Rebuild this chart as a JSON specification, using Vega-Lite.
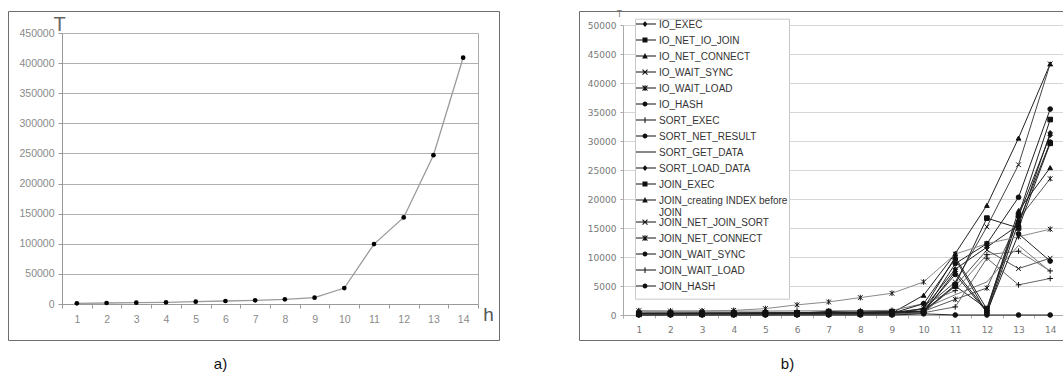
{
  "$schema": "https://vega.github.io/schema/vega-lite/v6.json",
  "padding": {"left": 7, "top": 9, "right": 0, "bottom": 0},
  "spacing": 78,
  "config": {
    "view": {"stroke": "#6e6e6e", "strokeWidth": 1},
    "font": "Liberation Sans"
  },
  "hconcat": [
    {
      "width": 491,
      "height": 329,
      "title": {"text": "a)", "orient": "bottom", "anchor": "middle", "dx": -33, "offset": 17, "fontSize": 15, "font": "Liberation Sans", "fontWeight": "normal", "color": "#111"},
      "data": {"values": [
        {"h": 1, "T": 1100}, {"h": 2, "T": 1700}, {"h": 3, "T": 2200}, {"h": 4, "T": 2800},
        {"h": 5, "T": 3900}, {"h": 6, "T": 5000}, {"h": 7, "T": 6100}, {"h": 8, "T": 7700},
        {"h": 9, "T": 10500}, {"h": 10, "T": 26500}, {"h": 11, "T": 99500}, {"h": 12, "T": 143700},
        {"h": 13, "T": 247100}, {"h": 14, "T": 409000}
      ]},
      "encoding": {
        "x": {
          "field": "h", "type": "ordinal",
          "scale": {"type": "band", "range": [54, 470], "paddingInner": 0, "paddingOuter": 0},
          "axis": {
            "orient": "bottom", "offset": -36, "labelAngle": 0, "labelFont": "Liberation Sans", "labelFontSize": 10.5,
            "labelColor": "#8a8a8a", "labelPadding": 6, "tickBand": "extent", "tickSize": 4, "tickColor": "#999",
            "domainColor": "#999", "grid": false, "title": "h", "titleFont": "Liberation Sans", "titleFontSize": 19,
            "titleFontWeight": "normal", "titleColor": "#555", "titleX": 480, "titleY": 16, "titleAlign": "center",
            "titleBaseline": "alphabetic"
          }
        },
        "y": {
          "field": "T", "type": "quantitative",
          "scale": {"domain": [0, 450000], "range": [293, 22], "nice": false},
          "axis": {
            "orient": "left", "offset": -54, "values": [0, 50000, 100000, 150000, 200000, 250000, 300000, 350000, 400000, 450000],
            "format": "d", "labelFont": "Liberation Sans", "labelFontSize": 10.5, "labelColor": "#8a8a8a", "labelPadding": 4,
            "tickSize": 4, "tickColor": "#999", "domainColor": "#999", "grid": true, "gridColor": "#b0b0b0", "gridWidth": 1.2,
            "title": "T", "titleAngle": 0, "titleX": -3, "titleY": 19, "titleAlign": "center", "titleBaseline": "alphabetic",
            "titleFont": "Liberation Sans", "titleFontSize": 20, "titleFontWeight": "normal", "titleColor": "#666"
          }
        }
      },
      "layer": [
        {"mark": {"type": "line", "color": "#9a9a9a", "strokeWidth": 1.3}},
        {
          "mark": {"type": "point", "shape": "circle", "filled": true, "color": "#000", "size": 22, "opacity": 1},
          "encoding": {
            "y": {"field": "T", "type": "quantitative", "axis": {"orient": "right", "offset": -21, "labels": false, "ticks": false, "grid": false, "domainColor": "#aaa", "title": null}}
          }
        }
      ],
      "resolve": {"axis": {"y": "independent"}}
    },
    {
      "width": 487,
      "height": 329,
      "title": {"text": "b)", "orient": "bottom", "anchor": "middle", "dx": -35, "offset": 17, "fontSize": 15, "font": "Liberation Sans", "fontWeight": "normal", "color": "#111"},
      "data": {"values": [
        {"s": "IO_EXEC", "h": 1, "T": 150}, {"s": "IO_EXEC", "h": 2, "T": 160}, {"s": "IO_EXEC", "h": 3, "T": 170}, {"s": "IO_EXEC", "h": 4, "T": 180}, {"s": "IO_EXEC", "h": 5, "T": 200}, {"s": "IO_EXEC", "h": 6, "T": 220}, {"s": "IO_EXEC", "h": 7, "T": 260}, {"s": "IO_EXEC", "h": 8, "T": 300}, {"s": "IO_EXEC", "h": 9, "T": 400}, {"s": "IO_EXEC", "h": 10, "T": 1100}, {"s": "IO_EXEC", "h": 11, "T": 7900}, {"s": "IO_EXEC", "h": 12, "T": 11700}, {"s": "IO_EXEC", "h": 13, "T": 15500}, {"s": "IO_EXEC", "h": 14, "T": 31400},
        {"s": "IO_NET_IO_JOIN", "h": 1, "T": 300}, {"s": "IO_NET_IO_JOIN", "h": 2, "T": 300}, {"s": "IO_NET_IO_JOIN", "h": 3, "T": 320}, {"s": "IO_NET_IO_JOIN", "h": 4, "T": 330}, {"s": "IO_NET_IO_JOIN", "h": 5, "T": 350}, {"s": "IO_NET_IO_JOIN", "h": 6, "T": 380}, {"s": "IO_NET_IO_JOIN", "h": 7, "T": 450}, {"s": "IO_NET_IO_JOIN", "h": 8, "T": 500}, {"s": "IO_NET_IO_JOIN", "h": 9, "T": 600}, {"s": "IO_NET_IO_JOIN", "h": 10, "T": 640}, {"s": "IO_NET_IO_JOIN", "h": 11, "T": 5000}, {"s": "IO_NET_IO_JOIN", "h": 12, "T": 1100}, {"s": "IO_NET_IO_JOIN", "h": 13, "T": 17200}, {"s": "IO_NET_IO_JOIN", "h": 14, "T": 33700},
        {"s": "IO_NET_CONNECT", "h": 1, "T": 100}, {"s": "IO_NET_CONNECT", "h": 2, "T": 110}, {"s": "IO_NET_CONNECT", "h": 3, "T": 120}, {"s": "IO_NET_CONNECT", "h": 4, "T": 130}, {"s": "IO_NET_CONNECT", "h": 5, "T": 150}, {"s": "IO_NET_CONNECT", "h": 6, "T": 170}, {"s": "IO_NET_CONNECT", "h": 7, "T": 200}, {"s": "IO_NET_CONNECT", "h": 8, "T": 250}, {"s": "IO_NET_CONNECT", "h": 9, "T": 320}, {"s": "IO_NET_CONNECT", "h": 10, "T": 3400}, {"s": "IO_NET_CONNECT", "h": 11, "T": 10600}, {"s": "IO_NET_CONNECT", "h": 12, "T": 18900}, {"s": "IO_NET_CONNECT", "h": 13, "T": 30500}, {"s": "IO_NET_CONNECT", "h": 14, "T": 43300},
        {"s": "IO_WAIT_SYNC", "h": 1, "T": 80}, {"s": "IO_WAIT_SYNC", "h": 2, "T": 80}, {"s": "IO_WAIT_SYNC", "h": 3, "T": 90}, {"s": "IO_WAIT_SYNC", "h": 4, "T": 100}, {"s": "IO_WAIT_SYNC", "h": 5, "T": 110}, {"s": "IO_WAIT_SYNC", "h": 6, "T": 120}, {"s": "IO_WAIT_SYNC", "h": 7, "T": 150}, {"s": "IO_WAIT_SYNC", "h": 8, "T": 180}, {"s": "IO_WAIT_SYNC", "h": 9, "T": 230}, {"s": "IO_WAIT_SYNC", "h": 10, "T": 1090}, {"s": "IO_WAIT_SYNC", "h": 11, "T": 5700}, {"s": "IO_WAIT_SYNC", "h": 12, "T": 15200}, {"s": "IO_WAIT_SYNC", "h": 13, "T": 25900}, {"s": "IO_WAIT_SYNC", "h": 14, "T": 43300},
        {"s": "IO_WAIT_LOAD", "h": 1, "T": 60}, {"s": "IO_WAIT_LOAD", "h": 2, "T": 60}, {"s": "IO_WAIT_LOAD", "h": 3, "T": 70}, {"s": "IO_WAIT_LOAD", "h": 4, "T": 70}, {"s": "IO_WAIT_LOAD", "h": 5, "T": 80}, {"s": "IO_WAIT_LOAD", "h": 6, "T": 90}, {"s": "IO_WAIT_LOAD", "h": 7, "T": 110}, {"s": "IO_WAIT_LOAD", "h": 8, "T": 130}, {"s": "IO_WAIT_LOAD", "h": 9, "T": 160}, {"s": "IO_WAIT_LOAD", "h": 10, "T": 640}, {"s": "IO_WAIT_LOAD", "h": 11, "T": 2700}, {"s": "IO_WAIT_LOAD", "h": 12, "T": 4650}, {"s": "IO_WAIT_LOAD", "h": 13, "T": 16500}, {"s": "IO_WAIT_LOAD", "h": 14, "T": 23500},
        {"s": "IO_HASH", "h": 1, "T": 200}, {"s": "IO_HASH", "h": 2, "T": 210}, {"s": "IO_HASH", "h": 3, "T": 220}, {"s": "IO_HASH", "h": 4, "T": 230}, {"s": "IO_HASH", "h": 5, "T": 250}, {"s": "IO_HASH", "h": 6, "T": 270}, {"s": "IO_HASH", "h": 7, "T": 300}, {"s": "IO_HASH", "h": 8, "T": 350}, {"s": "IO_HASH", "h": 9, "T": 420}, {"s": "IO_HASH", "h": 10, "T": 400}, {"s": "IO_HASH", "h": 11, "T": 8850}, {"s": "IO_HASH", "h": 12, "T": 12300}, {"s": "IO_HASH", "h": 13, "T": 20300}, {"s": "IO_HASH", "h": 14, "T": 35500},
        {"s": "SORT_EXEC", "h": 1, "T": 650}, {"s": "SORT_EXEC", "h": 2, "T": 650}, {"s": "SORT_EXEC", "h": 3, "T": 660}, {"s": "SORT_EXEC", "h": 4, "T": 670}, {"s": "SORT_EXEC", "h": 5, "T": 680}, {"s": "SORT_EXEC", "h": 6, "T": 700}, {"s": "SORT_EXEC", "h": 7, "T": 720}, {"s": "SORT_EXEC", "h": 8, "T": 750}, {"s": "SORT_EXEC", "h": 9, "T": 800}, {"s": "SORT_EXEC", "h": 10, "T": 1950}, {"s": "SORT_EXEC", "h": 11, "T": 4200}, {"s": "SORT_EXEC", "h": 12, "T": 10400}, {"s": "SORT_EXEC", "h": 13, "T": 11000}, {"s": "SORT_EXEC", "h": 14, "T": 7600},
        {"s": "SORT_NET_RESULT", "h": 1, "T": 120}, {"s": "SORT_NET_RESULT", "h": 2, "T": 130}, {"s": "SORT_NET_RESULT", "h": 3, "T": 140}, {"s": "SORT_NET_RESULT", "h": 4, "T": 150}, {"s": "SORT_NET_RESULT", "h": 5, "T": 160}, {"s": "SORT_NET_RESULT", "h": 6, "T": 180}, {"s": "SORT_NET_RESULT", "h": 7, "T": 210}, {"s": "SORT_NET_RESULT", "h": 8, "T": 250}, {"s": "SORT_NET_RESULT", "h": 9, "T": 300}, {"s": "SORT_NET_RESULT", "h": 10, "T": 1950}, {"s": "SORT_NET_RESULT", "h": 11, "T": 9700}, {"s": "SORT_NET_RESULT", "h": 12, "T": 300}, {"s": "SORT_NET_RESULT", "h": 13, "T": 16000}, {"s": "SORT_NET_RESULT", "h": 14, "T": 29800},
        {"s": "SORT_GET_DATA", "h": 1, "T": 50}, {"s": "SORT_GET_DATA", "h": 2, "T": 50}, {"s": "SORT_GET_DATA", "h": 3, "T": 60}, {"s": "SORT_GET_DATA", "h": 4, "T": 60}, {"s": "SORT_GET_DATA", "h": 5, "T": 70}, {"s": "SORT_GET_DATA", "h": 6, "T": 80}, {"s": "SORT_GET_DATA", "h": 7, "T": 90}, {"s": "SORT_GET_DATA", "h": 8, "T": 110}, {"s": "SORT_GET_DATA", "h": 9, "T": 130}, {"s": "SORT_GET_DATA", "h": 10, "T": 1100}, {"s": "SORT_GET_DATA", "h": 11, "T": 3500}, {"s": "SORT_GET_DATA", "h": 12, "T": 5700}, {"s": "SORT_GET_DATA", "h": 13, "T": 12000}, {"s": "SORT_GET_DATA", "h": 14, "T": 7500},
        {"s": "SORT_LOAD_DATA", "h": 1, "T": 180}, {"s": "SORT_LOAD_DATA", "h": 2, "T": 190}, {"s": "SORT_LOAD_DATA", "h": 3, "T": 200}, {"s": "SORT_LOAD_DATA", "h": 4, "T": 200}, {"s": "SORT_LOAD_DATA", "h": 5, "T": 220}, {"s": "SORT_LOAD_DATA", "h": 6, "T": 240}, {"s": "SORT_LOAD_DATA", "h": 7, "T": 500}, {"s": "SORT_LOAD_DATA", "h": 8, "T": 280}, {"s": "SORT_LOAD_DATA", "h": 9, "T": 350}, {"s": "SORT_LOAD_DATA", "h": 10, "T": 400}, {"s": "SORT_LOAD_DATA", "h": 11, "T": 7500}, {"s": "SORT_LOAD_DATA", "h": 12, "T": 700}, {"s": "SORT_LOAD_DATA", "h": 13, "T": 17000}, {"s": "SORT_LOAD_DATA", "h": 14, "T": 31000},
        {"s": "JOIN_EXEC", "h": 1, "T": 250}, {"s": "JOIN_EXEC", "h": 2, "T": 260}, {"s": "JOIN_EXEC", "h": 3, "T": 270}, {"s": "JOIN_EXEC", "h": 4, "T": 280}, {"s": "JOIN_EXEC", "h": 5, "T": 300}, {"s": "JOIN_EXEC", "h": 6, "T": 320}, {"s": "JOIN_EXEC", "h": 7, "T": 600}, {"s": "JOIN_EXEC", "h": 8, "T": 380}, {"s": "JOIN_EXEC", "h": 9, "T": 450}, {"s": "JOIN_EXEC", "h": 10, "T": 640}, {"s": "JOIN_EXEC", "h": 11, "T": 5200}, {"s": "JOIN_EXEC", "h": 12, "T": 16700}, {"s": "JOIN_EXEC", "h": 13, "T": 15000}, {"s": "JOIN_EXEC", "h": 14, "T": 29600},
        {"s": "JOIN_creating INDEX before JOIN", "h": 1, "T": 90}, {"s": "JOIN_creating INDEX before JOIN", "h": 2, "T": 100}, {"s": "JOIN_creating INDEX before JOIN", "h": 3, "T": 100}, {"s": "JOIN_creating INDEX before JOIN", "h": 4, "T": 110}, {"s": "JOIN_creating INDEX before JOIN", "h": 5, "T": 120}, {"s": "JOIN_creating INDEX before JOIN", "h": 6, "T": 140}, {"s": "JOIN_creating INDEX before JOIN", "h": 7, "T": 170}, {"s": "JOIN_creating INDEX before JOIN", "h": 8, "T": 200}, {"s": "JOIN_creating INDEX before JOIN", "h": 9, "T": 260}, {"s": "JOIN_creating INDEX before JOIN", "h": 10, "T": 1100}, {"s": "JOIN_creating INDEX before JOIN", "h": 11, "T": 10000}, {"s": "JOIN_creating INDEX before JOIN", "h": 12, "T": 1000}, {"s": "JOIN_creating INDEX before JOIN", "h": 13, "T": 18000}, {"s": "JOIN_creating INDEX before JOIN", "h": 14, "T": 25400},
        {"s": "JOIN_NET_JOIN_SORT", "h": 1, "T": 40}, {"s": "JOIN_NET_JOIN_SORT", "h": 2, "T": 40}, {"s": "JOIN_NET_JOIN_SORT", "h": 3, "T": 50}, {"s": "JOIN_NET_JOIN_SORT", "h": 4, "T": 50}, {"s": "JOIN_NET_JOIN_SORT", "h": 5, "T": 60}, {"s": "JOIN_NET_JOIN_SORT", "h": 6, "T": 70}, {"s": "JOIN_NET_JOIN_SORT", "h": 7, "T": 80}, {"s": "JOIN_NET_JOIN_SORT", "h": 8, "T": 100}, {"s": "JOIN_NET_JOIN_SORT", "h": 9, "T": 120}, {"s": "JOIN_NET_JOIN_SORT", "h": 10, "T": 400}, {"s": "JOIN_NET_JOIN_SORT", "h": 11, "T": 5000}, {"s": "JOIN_NET_JOIN_SORT", "h": 12, "T": 11200}, {"s": "JOIN_NET_JOIN_SORT", "h": 13, "T": 8000}, {"s": "JOIN_NET_JOIN_SORT", "h": 14, "T": 9800},
        {"s": "JOIN_NET_CONNECT", "h": 1, "T": 750}, {"s": "JOIN_NET_CONNECT", "h": 2, "T": 700}, {"s": "JOIN_NET_CONNECT", "h": 3, "T": 700}, {"s": "JOIN_NET_CONNECT", "h": 4, "T": 800}, {"s": "JOIN_NET_CONNECT", "h": 5, "T": 1100}, {"s": "JOIN_NET_CONNECT", "h": 6, "T": 1750}, {"s": "JOIN_NET_CONNECT", "h": 7, "T": 2250}, {"s": "JOIN_NET_CONNECT", "h": 8, "T": 3000}, {"s": "JOIN_NET_CONNECT", "h": 9, "T": 3750}, {"s": "JOIN_NET_CONNECT", "h": 10, "T": 5700}, {"s": "JOIN_NET_CONNECT", "h": 11, "T": 10500}, {"s": "JOIN_NET_CONNECT", "h": 12, "T": 12300}, {"s": "JOIN_NET_CONNECT", "h": 13, "T": 13500}, {"s": "JOIN_NET_CONNECT", "h": 14, "T": 14800},
        {"s": "JOIN_WAIT_SYNC", "h": 1, "T": 350}, {"s": "JOIN_WAIT_SYNC", "h": 2, "T": 360}, {"s": "JOIN_WAIT_SYNC", "h": 3, "T": 370}, {"s": "JOIN_WAIT_SYNC", "h": 4, "T": 380}, {"s": "JOIN_WAIT_SYNC", "h": 5, "T": 400}, {"s": "JOIN_WAIT_SYNC", "h": 6, "T": 420}, {"s": "JOIN_WAIT_SYNC", "h": 7, "T": 460}, {"s": "JOIN_WAIT_SYNC", "h": 8, "T": 500}, {"s": "JOIN_WAIT_SYNC", "h": 9, "T": 560}, {"s": "JOIN_WAIT_SYNC", "h": 10, "T": 640}, {"s": "JOIN_WAIT_SYNC", "h": 11, "T": 7000}, {"s": "JOIN_WAIT_SYNC", "h": 12, "T": 500}, {"s": "JOIN_WAIT_SYNC", "h": 13, "T": 14000}, {"s": "JOIN_WAIT_SYNC", "h": 14, "T": 9300},
        {"s": "JOIN_WAIT_LOAD", "h": 1, "T": 30}, {"s": "JOIN_WAIT_LOAD", "h": 2, "T": 30}, {"s": "JOIN_WAIT_LOAD", "h": 3, "T": 40}, {"s": "JOIN_WAIT_LOAD", "h": 4, "T": 40}, {"s": "JOIN_WAIT_LOAD", "h": 5, "T": 50}, {"s": "JOIN_WAIT_LOAD", "h": 6, "T": 60}, {"s": "JOIN_WAIT_LOAD", "h": 7, "T": 70}, {"s": "JOIN_WAIT_LOAD", "h": 8, "T": 80}, {"s": "JOIN_WAIT_LOAD", "h": 9, "T": 100}, {"s": "JOIN_WAIT_LOAD", "h": 10, "T": 400}, {"s": "JOIN_WAIT_LOAD", "h": 11, "T": 1400}, {"s": "JOIN_WAIT_LOAD", "h": 12, "T": 9800}, {"s": "JOIN_WAIT_LOAD", "h": 13, "T": 5200}, {"s": "JOIN_WAIT_LOAD", "h": 14, "T": 6300},
        {"s": "JOIN_HASH", "h": 1, "T": 0}, {"s": "JOIN_HASH", "h": 2, "T": 0}, {"s": "JOIN_HASH", "h": 3, "T": 0}, {"s": "JOIN_HASH", "h": 4, "T": 0}, {"s": "JOIN_HASH", "h": 5, "T": 0}, {"s": "JOIN_HASH", "h": 6, "T": 0}, {"s": "JOIN_HASH", "h": 7, "T": 0}, {"s": "JOIN_HASH", "h": 8, "T": 0}, {"s": "JOIN_HASH", "h": 9, "T": 0}, {"s": "JOIN_HASH", "h": 10, "T": 200}, {"s": "JOIN_HASH", "h": 11, "T": 0}, {"s": "JOIN_HASH", "h": 12, "T": 0}, {"s": "JOIN_HASH", "h": 13, "T": 0}, {"s": "JOIN_HASH", "h": 14, "T": 0}
      ]},
      "encoding": {
        "x": {
          "field": "h", "type": "ordinal",
          "scale": {"type": "band", "range": [44, 487], "paddingInner": 0, "paddingOuter": 0},
          "axis": {
            "orient": "bottom", "offset": -25, "labelAngle": 0, "labelFont": "DejaVu Sans", "labelFontSize": 9,
            "labelColor": "#777", "labelPadding": 7, "tickBand": "extent", "tickSize": 3, "tickColor": "#aaa",
            "domainColor": "#aaa", "grid": false, "title": null
          }
        },
        "y": {
          "field": "T", "type": "quantitative",
          "scale": {"domain": [0, 50000], "range": [304, 14], "nice": false},
          "axis": {
            "orient": "left", "offset": -44, "values": [0, 5000, 10000, 15000, 20000, 25000, 30000, 35000, 40000, 45000, 50000],
            "format": "d", "labelFont": "DejaVu Sans", "labelFontSize": 9, "labelColor": "#777", "labelPadding": 4,
            "tickSize": 3, "tickColor": "#aaa", "domainColor": "#aaa", "grid": true, "gridColor": "#d6d6d6", "gridWidth": 1.2,
            "title": "T", "titleAngle": 0, "titleX": -4, "titleY": 5, "titleAlign": "center", "titleBaseline": "alphabetic",
            "titleFont": "DejaVu Sans", "titleFontSize": 8, "titleFontWeight": "normal", "titleColor": "#777"
          }
        }
      },
      "layer": [
        {
          "mark": {"type": "line", "strokeWidth": 1, "strokeJoin": "round"},
          "encoding": {
            "color": {
              "field": "s", "type": "nominal", "legend": null,
              "scale": {
                "domain": ["IO_EXEC", "IO_NET_IO_JOIN", "IO_NET_CONNECT", "IO_WAIT_SYNC", "IO_WAIT_LOAD", "IO_HASH", "SORT_EXEC", "SORT_NET_RESULT", "SORT_GET_DATA", "SORT_LOAD_DATA", "JOIN_EXEC", "JOIN_creating INDEX before JOIN", "JOIN_NET_JOIN_SORT", "JOIN_NET_CONNECT", "JOIN_WAIT_SYNC", "JOIN_WAIT_LOAD", "JOIN_HASH"],
                "range": ["#222", "#222", "#222", "#444", "#555", "#222", "#777", "#222", "#777", "#222", "#222", "#222", "#555", "#8a8a8a", "#222", "#666", "#222"]
              }
            }
          }
        },
        {
          "mark": {"type": "point", "filled": true, "color": "#111", "stroke": "#111", "strokeWidth": 1, "size": 22, "opacity": 1},
          "encoding": {
            "shape": {
              "field": "s", "type": "nominal", "legend": null,
              "scale": {
                "domain": ["IO_EXEC", "IO_NET_IO_JOIN", "IO_NET_CONNECT", "IO_WAIT_SYNC", "IO_WAIT_LOAD", "IO_HASH", "SORT_EXEC", "SORT_NET_RESULT", "SORT_GET_DATA", "SORT_LOAD_DATA", "JOIN_EXEC", "JOIN_creating INDEX before JOIN", "JOIN_NET_JOIN_SORT", "JOIN_NET_CONNECT", "JOIN_WAIT_SYNC", "JOIN_WAIT_LOAD", "JOIN_HASH"],
                "range": ["diamond", "square", "triangle-up", "M-1,-1L1,1M-1,1L1,-1", "M-1,-1L1,1M-1,1L1,-1M0,-1.2V1.2", "circle", "M-1.2,0H1.2M0,-1.2V1.2", "circle", "M0,0", "diamond", "square", "triangle-up", "M-1,-1L1,1M-1,1L1,-1", "M-1,-1L1,1M-1,1L1,-1M0,-1.2V1.2", "circle", "M-1.2,0H1.2M0,-1.2V1.2", "circle"]
              }
            }
          }
        },
        {
          "transform": [{"filter": "false"}],
          "mark": {"type": "point", "filled": false, "fill": "#111", "stroke": "#111", "color": "#111", "strokeWidth": 1, "size": 49, "opacity": 1},
          "encoding": {
            "shape": {
              "field": "s", "type": "nominal",
              "scale": {
                "domain": ["IO_EXEC", "IO_NET_IO_JOIN", "IO_NET_CONNECT", "IO_WAIT_SYNC", "IO_WAIT_LOAD", "IO_HASH", "SORT_EXEC", "SORT_NET_RESULT", "SORT_GET_DATA", "SORT_LOAD_DATA", "JOIN_EXEC", "JOIN_creating INDEX before JOIN", "JOIN_NET_JOIN_SORT", "JOIN_NET_CONNECT", "JOIN_WAIT_SYNC", "JOIN_WAIT_LOAD", "JOIN_HASH"],
                "range": [
                  "M-3.14,-1.18H3.14V-0.88H-3.14ZM0,-1.83L0.71,-1.03L0,-0.23L-0.71,-1.03Z",
                  "M-3.14,-1.18H3.14V-0.88H-3.14ZM-0.71,-1.74H0.71V-0.32H-0.71Z",
                  "M-3.14,-1.18H3.14V-0.88H-3.14ZM0,-1.9L0.8,-0.37H-0.8Z",
                  "M-3.14,-1.18H3.14V-0.88H-3.14ZM-0.604,-1.846L0.816,-0.426L0.604,-0.214L-0.816,-1.634ZM-0.604,-0.214L-0.816,-0.426L0.604,-1.846L0.816,-1.634Z",
                  "M-3.14,-1.18H3.14V-0.88H-3.14ZM-0.604,-1.846L0.816,-0.426L0.604,-0.214L-0.816,-1.634ZM-0.604,-0.214L-0.816,-0.426L0.604,-1.846L0.816,-1.634ZM-0.15,-1.84H0.15V-0.22H-0.15Z",
                  "M-3.14,-1.18H3.14V-0.88H-3.14ZM-0.71,-1.03A0.71,0.71 0 1,1 0.71,-1.03A0.71,0.71 0 1,1 -0.71,-1.03Z",
                  "M-3.14,-1.18H3.14V-0.88H-3.14ZM-0.15,-1.84H0.15V-0.22H-0.15Z",
                  "M-3.14,-1.18H3.14V-0.88H-3.14ZM-0.71,-1.03A0.71,0.71 0 1,1 0.71,-1.03A0.71,0.71 0 1,1 -0.71,-1.03Z",
                  "M-3.14,-1.18H3.14V-0.88H-3.14Z",
                  "M-3.14,-1.18H3.14V-0.88H-3.14ZM0,-1.83L0.71,-1.03L0,-0.23L-0.71,-1.03Z",
                  "M-3.14,-1.18H3.14V-0.88H-3.14ZM-0.71,-1.74H0.71V-0.32H-0.71Z",
                  "M-3.14,-1.18H3.14V-0.88H-3.14ZM0,-1.9L0.8,-0.37H-0.8Z",
                  "M-3.14,-1.18H3.14V-0.88H-3.14ZM-0.604,-1.846L0.816,-0.426L0.604,-0.214L-0.816,-1.634ZM-0.604,-0.214L-0.816,-0.426L0.604,-1.846L0.816,-1.634Z",
                  "M-3.14,-1.18H3.14V-0.88H-3.14ZM-0.604,-1.846L0.816,-0.426L0.604,-0.214L-0.816,-1.634ZM-0.604,-0.214L-0.816,-0.426L0.604,-1.846L0.816,-1.634ZM-0.15,-1.84H0.15V-0.22H-0.15Z",
                  "M-3.14,-1.18H3.14V-0.88H-3.14ZM-0.71,-1.03A0.71,0.71 0 1,1 0.71,-1.03A0.71,0.71 0 1,1 -0.71,-1.03Z",
                  "M-3.14,-1.18H3.14V-0.88H-3.14ZM-0.15,-1.84H0.15V-0.22H-0.15Z",
                  "M-3.14,-1.18H3.14V-0.88H-3.14ZM-0.71,-1.03A0.71,0.71 0 1,1 0.71,-1.03A0.71,0.71 0 1,1 -0.71,-1.03Z"
                ]
              },
              "legend": {
                "orient": "none", "legendX": 56, "legendY": 7.7, "direction": "vertical", "title": null,
                "padding": 1, "strokeColor": "#c8c8c8", "fillColor": "#ffffff", "cornerRadius": 0,
                "rowPadding": 0, "clipHeight": 16, "labelFont": "Liberation Sans", "labelFontSize": 10, "labelColor": "#333",
                "labelBaseline": "alphabetic", "labelOffset": 9, "symbolOffset": 4, "labelLimit": 220,
                "symbolSize": 49, "symbolStrokeWidth": 1, "symbolFillColor": "#111", "symbolStrokeColor": "#111",
                "symbolOpacity": 1,
                "labelExpr": "datum.label == 'JOIN_creating INDEX before JOIN' ? ['JOIN_creating INDEX before', 'JOIN'] : datum.label"
              }
            }
          }
        }
      ],
      "resolve": {"scale": {"shape": "independent"}}
    }
  ]
}
